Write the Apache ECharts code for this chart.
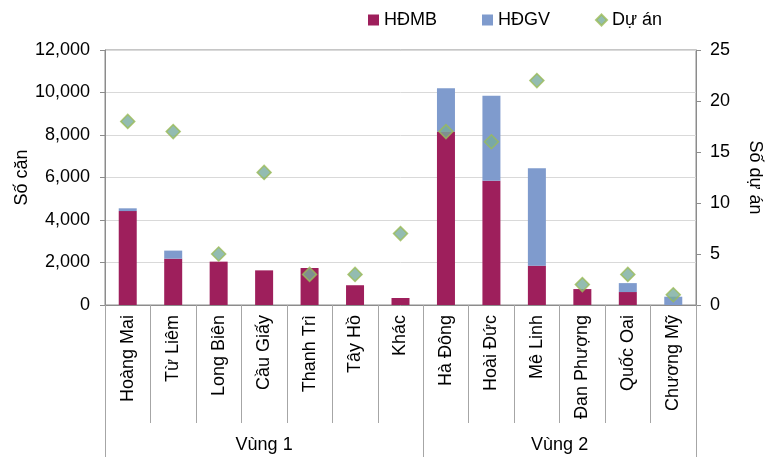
<!DOCTYPE html>
<html>
<head>
<meta charset="utf-8">
<script src="https://cdn.jsdelivr.net/npm/echarts@6/dist/echarts.min.js"></script>
<style>
  html, body { margin: 0; padding: 0; background: #fff; }
  #chart { width: 766px; height: 457px; }
</style>
</head>
<body>
<div id="chart"></div>
<script>
// du lieu bieu do
var categories = ['Hoàng Mai', 'Từ Liêm', 'Long Biên', 'Cầu Giấy', 'Thanh Trì', 'Tây Hồ', 'Khác',
  'Hà Đông', 'Hoài Đức', 'Mê Linh', 'Đan Phượng', 'Quốc Oai', 'Chương Mỹ'];
var hdmb = [4420, 2180, 2040, 1630, 1740, 930, 330, 8160, 5850, 1850, 750, 610, 0];
var hdgv = [130, 380, 0, 0, 0, 0, 0, 2040, 4000, 4580, 0, 420, 390];
var duAn = [18, 17, 5, 13, 3, 3, 7, 17, 16, 22, 2, 3, 1];
var groupNames = ['Vùng 1', 'Vùng 2'];
var groupBounds = [0, 7, 13];   // ranh gioi nhom (theo so hang muc)
var groupCenters = [3.5, 10];

var font = 'Liberation Sans, Arial, sans-serif';
var txt = '#000';
var lineColor = '#8c8c8c';
var fs = 18;

var chart = echarts.init(document.getElementById('chart'));

var option = {
  animation: false,
  textStyle: { fontFamily: font, color: txt },
  legend: {
    top: 6,
    left: 363,
    itemGap: 45,
    itemWidth: 11,
    itemHeight: 11,
    textStyle: { fontSize: fs, color: txt, fontFamily: font },
    data: [
      { name: 'HĐMB', icon: 'rect' },
      { name: 'HĐGV', icon: 'rect' },
      { name: 'Dự án', icon: 'diamond' }
    ]
  },
  grid: {
    left: 105,
    right: 70,
    top: 50,
    bottom: 152,
    outerBoundsMode: 'none',
    show: true,
    borderColor: lineColor,
    borderWidth: 1
  },
  xAxis: [
    {
      type: 'category',
      data: categories,
      position: 'bottom',
      axisLine: { lineStyle: { color: lineColor } },
      axisTick: { show: true, interval: 0, length: 118, lineStyle: { color: '#a6a6a6' } },
      axisLabel: {
        interval: 0,
        rotate: 90,
        margin: 10,
        fontSize: fs,
        color: txt,
        fontFamily: font
      }
    },
    {
      type: 'value',
      min: 0,
      max: 13,
      position: 'bottom',
      axisLine: { show: false },
      splitLine: { show: false },
      axisTick: {
        show: true,
        length: 152,
        customValues: groupBounds,
        lineStyle: { color: '#a6a6a6' }
      },
      axisLabel: {
        margin: 131,
        fontSize: fs,
        color: txt,
        fontFamily: font,
        customValues: groupCenters,
        formatter: function (v) {
          return v < 7 ? groupNames[0] : groupNames[1];
        }
      }
    }
  ],
  yAxis: [
    {
      type: 'value',
      min: 0,
      max: 12000,
      interval: 2000,
      name: 'Số căn',
      nameLocation: 'middle',
      nameGap: 74,
      nameMoveOverlap: false,
      nameTextStyle: { fontSize: fs, color: txt, fontFamily: font },
      axisLine: { show: true, lineStyle: { color: lineColor } },
      axisTick: { show: true, length: 5, lineStyle: { color: lineColor } },
      axisLabel: {
        fontSize: fs,
        color: txt,
        margin: 15,
        formatter: function (v) { return v.toLocaleString('en-US'); }
      },
      splitLine: { lineStyle: { color: '#d9d9d9' } }
    },
    {
      type: 'value',
      min: 0,
      max: 25,
      interval: 5,
      position: 'right',
      name: 'Số dự án',
      nameLocation: 'middle',
      nameRotate: -90,
      nameGap: 50,
      nameMoveOverlap: false,
      nameTextStyle: { fontSize: fs, color: txt, fontFamily: font },
      axisLine: { show: true, lineStyle: { color: lineColor } },
      axisTick: { show: true, length: 5, lineStyle: { color: lineColor } },
      axisLabel: { fontSize: fs, color: txt, margin: 14 },
      splitLine: { show: false }
    }
  ],
  series: [
    {
      name: 'HĐMB',
      type: 'bar',
      stack: 'can',
      barWidth: 18,
      itemStyle: { color: '#9e1f5c' },
      data: hdmb
    },
    {
      name: 'HĐGV',
      type: 'bar',
      stack: 'can',
      barWidth: 18,
      itemStyle: { color: '#7f9bcd' },
      data: hdgv
    },
    {
      name: 'Dự án',
      type: 'scatter',
      yAxisIndex: 1,
      symbol: 'diamond',
      symbolSize: 14,
      itemStyle: { color: '#78ab9e', borderColor: '#9bbb59', borderWidth: 1.5 },
      data: duAn
    }
  ]
};

chart.setOption(option);
</script>
</body>
</html>
